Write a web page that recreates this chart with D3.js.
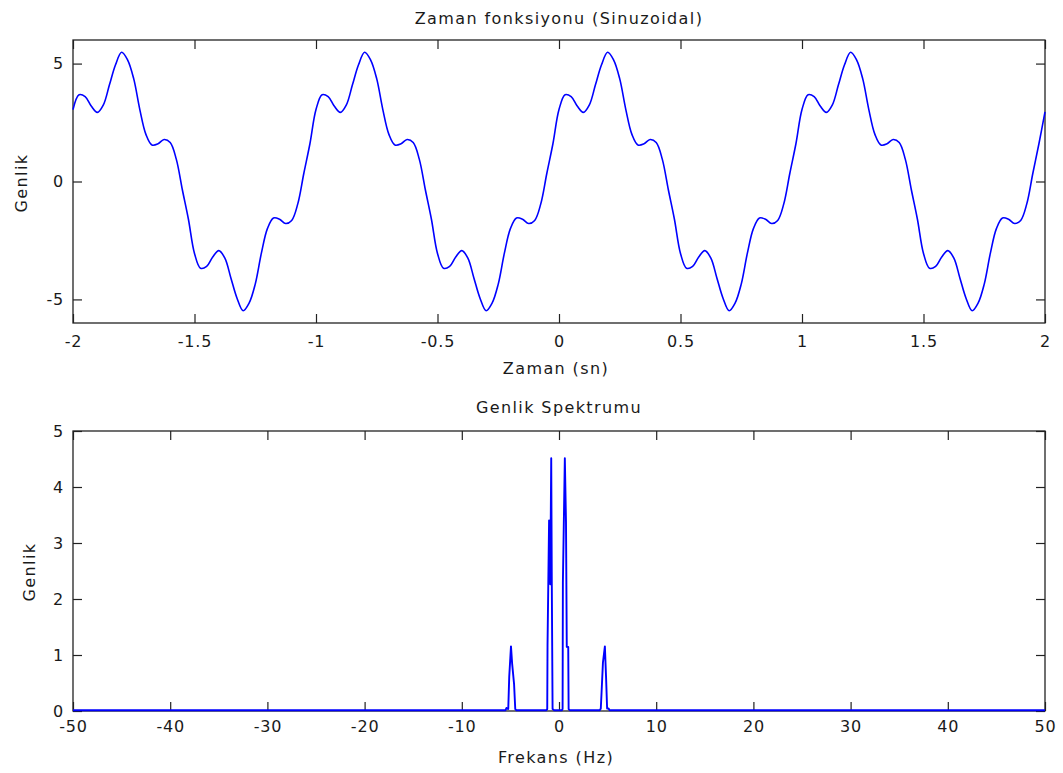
<!DOCTYPE html>
<html>
<head>
<meta charset="utf-8">
<script src="https://cdn.jsdelivr.net/npm/d3@7"></script>
<style>
  html, body { margin: 0; padding: 0; background: #fff; }
  svg { display: block; }
  text { font-family: "DejaVu Sans", sans-serif; fill: #1a1a1a; }
</style>
</head>
<body>
<svg id="chart" width="1063" height="773"></svg>
<script>
// ---------------- DATA ----------------
const timeStart = -2, timeEnd = 2, timeStep = 0.025;
const signalValues = [
  3.05, 3.68, 3.6, 3.2, 2.93, 3.25, 4.1, 4.95, 5.48, 5.15, 4.35, 3.05, 2.0, 1.55, 1.6, 1.78, 1.65, 0.95, -0.35, -1.6,
  -3.05, -3.68, -3.6, -3.2, -2.93, -3.25, -4.1, -4.95, -5.48, -5.15, -4.35, -3.05, -2.0, -1.55, -1.6, -1.78, -1.65, -0.95, 0.35, 1.6,
  3.05, 3.68, 3.6, 3.2, 2.93, 3.25, 4.1, 4.95, 5.48, 5.15, 4.35, 3.05, 2.0, 1.55, 1.6, 1.78, 1.65, 0.95, -0.35, -1.6,
  -3.05, -3.68, -3.6, -3.2, -2.93, -3.25, -4.1, -4.95, -5.48, -5.15, -4.35, -3.05, -2.0, -1.55, -1.6, -1.78, -1.65, -0.95, 0.35, 1.6,
  3.05, 3.68, 3.6, 3.2, 2.93, 3.25, 4.1, 4.95, 5.48, 5.15, 4.35, 3.05, 2.0, 1.55, 1.6, 1.78, 1.65, 0.95, -0.35, -1.6,
  -3.05, -3.68, -3.6, -3.2, -2.93, -3.25, -4.1, -4.95, -5.48, -5.15, -4.35, -3.05, -2.0, -1.55, -1.6, -1.78, -1.65, -0.95, 0.35, 1.6,
  3.05, 3.68, 3.6, 3.2, 2.93, 3.25, 4.1, 4.95, 5.48, 5.15, 4.35, 3.05, 2.0, 1.55, 1.6, 1.78, 1.65, 0.95, -0.35, -1.6,
  -3.05, -3.68, -3.6, -3.2, -2.93, -3.25, -4.1, -4.95, -5.48, -5.15, -4.35, -3.05, -2.0, -1.55, -1.6, -1.78, -1.65, -0.95, 0.35, 1.6,
  2.95
];

// Amplitude spectrum (frequency in Hz, amplitude)
const spectrumFreq = [
  -50, -5.5, -5.4, -5.22, -5.12, -4.94, -4.82, -4.62, -4.5, -4.4,
  -1.3, -1.21, -1.18, -1.02, -0.9, -0.8, -0.74, -0.66, -0.5,
  0.3, 0.37, 0.4, 0.6, 0.72, 0.8, 0.95, 0.99, 1.1,
  4.2, 4.3, 4.38, 4.52, 4.72, 4.84, 4.95, 5.1, 5.2,
  50
];
const spectrumAmp = [
  0, 0, 0.04, 0.02, 0.6, 1.14, 0.83, 0.46, 0.02, 0,
  0, 0.02, 1.16, 3.39, 2.25, 4.5, 2.25, 0.02, 0,
  0, 0.02, 2.28, 4.5, 3.36, 1.13, 1.13, 0.02, 0,
  0, 0.03, 0.32, 0.85, 1.14, 0.6, 0.03, 0.03, 0,
  0
];

// Axis ticks
const topXTicks = [-2, -1.5, -1, -0.5, 0, 0.5, 1, 1.5, 2];
const topYTicks = [-5, 0, 5];
const botXTicks = [-50, -40, -30, -20, -10, 0, 10, 20, 30, 40, 50];
const botYTicks = [0, 1, 2, 3, 4, 5];

// Texts
const topTitle = "Zaman fonksiyonu (Sinuzoidal)";
const topXLabel = "Zaman (sn)";
const botTitle = "Genlik Spektrumu";
const botXLabel = "Frekans (Hz)";
const yLabel = "Genlik";

// ---------------- DRAW ----------------
const svg = d3.select("#chart");
svg.append("rect").attr("width", 1063).attr("height", 773).attr("fill", "#fff");

const L = 73, R = 1045;
const panels = [
  { top: 40, bottom: 323, xd: [-2, 2], yd: [-6, 6], xt: topXTicks, yt: topYTicks, pad: 13 },
  { top: 431, bottom: 711, xd: [-50, 50], yd: [0, 5], xt: botXTicks, yt: botYTicks, pad: 10 }
];

function fmt(d) { return String(d); }

function drawAxes(p) {
  const x = d3.scaleLinear().domain(p.xd).range([L, R]);
  const y = d3.scaleLinear().domain(p.yd).range([p.bottom, p.top]);
  const TS = 9;
  const g = svg.append("g").attr("class", "axes");
  const styleAxis = sel => {
    sel.select(".domain").remove();
    sel.selectAll(".tick line").attr("stroke", "#222").attr("stroke-width", 1.2);
    sel.selectAll("text").style("font-size", "16px").style("letter-spacing", "0.8px")
       .attr("fill", "#1a1a1a");
  };
  g.append("g").attr("transform", `translate(0,${p.bottom})`)
    .call(d3.axisBottom(x).tickValues(p.xt).tickSizeInner(-TS).tickSizeOuter(0).tickPadding(p.pad).tickFormat(fmt))
    .call(styleAxis);
  g.append("g").attr("transform", `translate(0,${p.top})`)
    .call(d3.axisTop(x).tickValues(p.xt).tickSizeInner(-TS).tickSizeOuter(0).tickFormat(""))
    .call(styleAxis);
  g.append("g").attr("transform", `translate(${L},0)`)
    .call(d3.axisLeft(y).tickValues(p.yt).tickSizeInner(-TS).tickSizeOuter(0).tickPadding(9).tickFormat(fmt))
    .call(styleAxis);
  g.append("g").attr("transform", `translate(${R},0)`)
    .call(d3.axisRight(y).tickValues(p.yt).tickSizeInner(-TS).tickSizeOuter(0).tickFormat(""))
    .call(styleAxis);
  g.append("rect").attr("x", L).attr("y", p.top).attr("width", R - L).attr("height", p.bottom - p.top)
    .attr("fill", "none").attr("stroke", "#222").attr("stroke-width", 1.3);
  return { x, y };
}

// Top panel
const s1 = drawAxes(panels[0]);
const times = d3.range(signalValues.length).map(i => timeStart + i * timeStep);
const sig = times.map((t, i) => ({ t, v: signalValues[i] }));
svg.append("path")
  .datum(sig)
  .attr("fill", "none")
  .attr("stroke", "#0000ff")
  .attr("stroke-width", 1.6)
  .attr("d", d3.line().x(d => s1.x(d.t)).y(d => s1.y(d.v)).curve(d3.curveCatmullRom.alpha(0.5)));

// Bottom panel
const s2 = drawAxes(panels[1]);
const spec = spectrumFreq.map((f, i) => ({ f, a: spectrumAmp[i] }));
svg.append("path")
  .datum(spec)
  .attr("fill", "none")
  .attr("stroke", "#0000ff")
  .attr("stroke-width", 1.9)
  .attr("stroke-linejoin", "round")
  .attr("d", d3.line().x(d => s2.x(d.f)).y(d => s2.y(d.a) - 0.8));

// Texts
const txt = (s, x, y, opts = {}) => {
  const t = svg.append("text").attr("x", x).attr("y", y).attr("text-anchor", "middle")
    .style("font-size", "16px").style("letter-spacing", "1.4px").text(s);
  if (opts.rotate) t.attr("transform", `rotate(-90,${x},${y})`);
  return t;
};
txt(topTitle, 559, 24);
txt(topXLabel, 556, 374);
txt(botTitle, 559, 413);
txt(botXLabel, 556, 763);
txt(yLabel, 27, 183, { rotate: true });
txt(yLabel, 35, 572, { rotate: true });
</script>
</body>
</html>
